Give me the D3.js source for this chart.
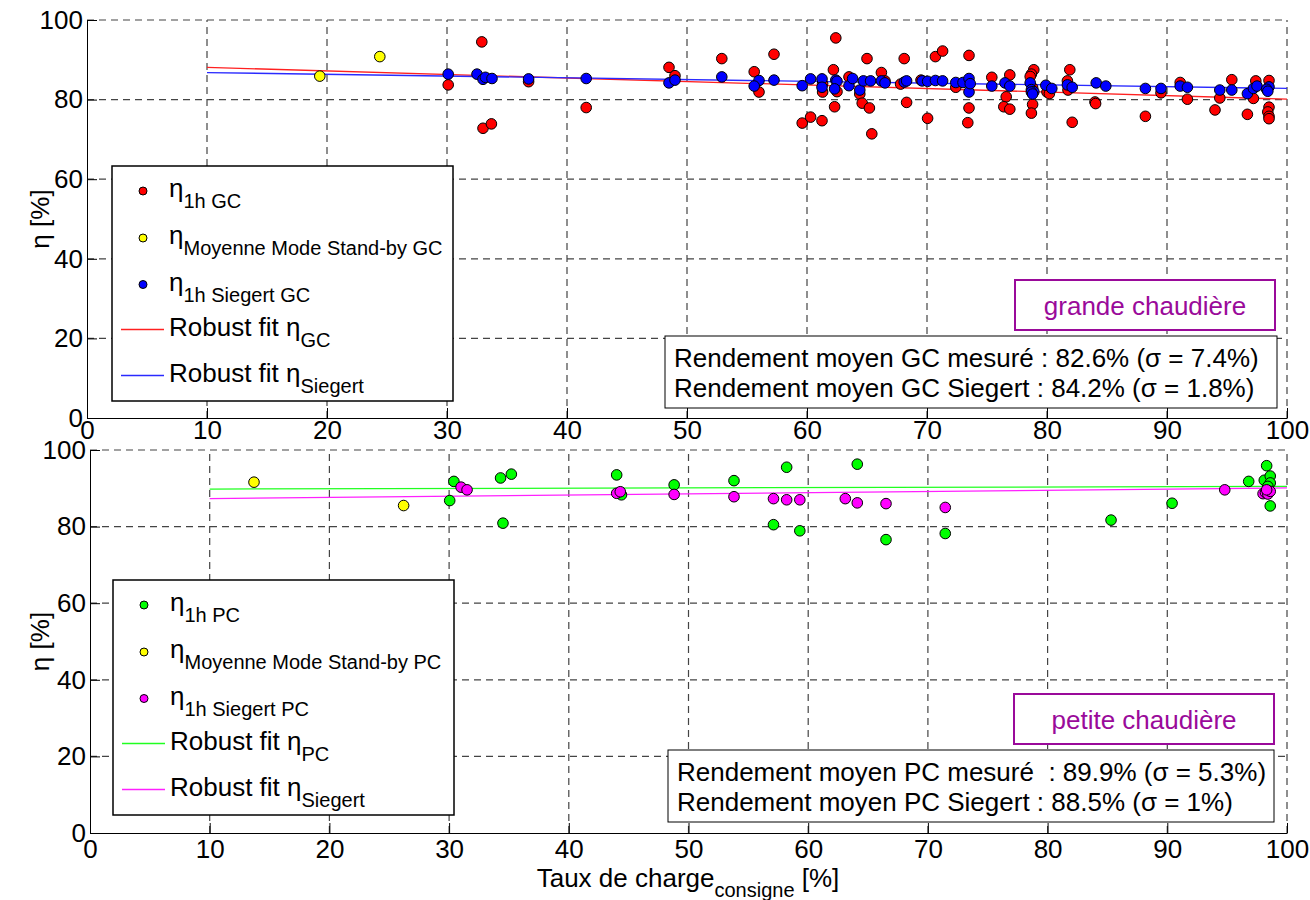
<!DOCTYPE html>
<html>
	<head>
		<meta charset="utf-8" />
		<title>Rendement chaudières</title>
		<style>
			body {
				margin: 0;
				background: #fff;
			}
			#svg {
				display: block;
				font-family: 'Liberation Sans', Arial, sans-serif;
			}
		</style>
	</head>
	<body>
		<svg id="svg" width="1310" height="900"></svg>

		<script src="https://d3js.org/d3.v7.min.js"></script>
		<script>
			// ticks
			const xTicks = [0, 10, 20, 30, 40, 50, 60, 70, 80, 90, 100];
			const yTicks = [0, 20, 40, 60, 80, 100];

			// grande chaudière : [taux de charge, rendement]
			const gc1h = [
				[30.1, 83.7], [32.9, 94.5], [33.0, 72.8], [33.7, 73.9], [36.8, 84.5], [41.6, 78.0],
				[48.5, 88.1], [49.0, 86.0], [52.9, 90.3], [55.6, 87.0], [56.0, 81.9], [57.25, 91.4],
				[59.6, 74.1], [60.3, 75.6], [61.25, 74.7], [61.3, 81.9], [61.3, 84.0], [62.4, 95.5],
				[62.2, 87.5], [62.3, 78.2], [62.5, 82.0], [63.5, 85.7], [64.4, 81.4], [64.6, 79.1],
				[65.0, 90.3], [65.2, 77.9], [65.4, 71.4], [66.2, 86.8], [66.5, 84.7], [68.1, 90.3],
				[68.3, 79.3], [67.8, 83.9], [69.5, 84.9], [70.05, 75.3], [70.7, 90.8], [71.3, 92.2],
				[72.4, 83.1], [73.5, 91.1], [73.5, 77.9], [73.4, 74.2], [75.4, 85.6], [76.9, 86.2],
				[76.6, 80.7], [76.4, 78.2], [76.9, 77.6], [78.9, 87.5], [78.7, 86.4], [78.6, 85.8],
				[78.8, 83.0], [78.8, 78.8], [78.7, 76.6], [80.0, 81.9], [80.2, 81.5], [81.7, 84.7],
				[81.9, 87.5], [81.75, 82.4], [82.1, 74.3], [84.0, 79.4], [84.05, 79.0], [88.2, 75.8],
				[89.5, 81.7], [91.1, 84.3], [91.7, 80.1], [94.0, 77.4], [94.4, 80.4], [95.4, 85.0],
				[96.7, 76.3], [97.2, 80.3], [97.4, 84.7], [98.5, 84.8], [98.5, 78.1], [98.4, 76.9],
				[98.5, 75.8], [98.5, 75.2]
			];
			const gcStandby = [[19.4, 85.9], [24.4, 90.8]];
			const gcSiegert = [
				[30.1, 86.4], [32.5, 86.4], [33.0, 85.1], [33.2, 85.6], [33.75, 85.3], [36.8, 85.2],
				[41.6, 85.3], [48.5, 84.2], [49.0, 84.9], [52.9, 85.7], [56.0, 84.8], [55.6, 83.4],
				[57.25, 84.9], [59.6, 83.5], [60.3, 85.2], [61.25, 85.2], [61.25, 83.1], [62.4, 84.9],
				[62.5, 84.6], [62.3, 82.7], [63.5, 83.5], [63.8, 85.3], [64.4, 82.4], [64.7, 84.7],
				[65.3, 84.7], [66.2, 84.7], [66.5, 84.2], [68.1, 84.4], [68.3, 84.7], [69.6, 84.7],
				[70.05, 84.6], [70.7, 84.8], [71.3, 84.7], [72.4, 84.3], [73.0, 84.3], [73.5, 81.9],
				[73.5, 85.3], [73.6, 84.0], [75.4, 83.4], [76.5, 84.2], [76.9, 83.4], [78.6, 84.2],
				[78.7, 82.5], [78.9, 82.0], [78.7, 81.9], [78.8, 81.4], [79.9, 83.6], [80.4, 82.8],
				[81.7, 83.7], [82.1, 83.1], [84.1, 84.2], [84.9, 83.4], [88.2, 82.8], [89.5, 82.8],
				[91.1, 83.4], [91.7, 83.1], [94.4, 82.4], [95.4, 82.4], [96.7, 81.5], [97.2, 82.8],
				[97.5, 83.4], [98.5, 83.2], [98.3, 82.6], [98.4, 82.1]
			];
			const fitGC = [[10, 88.1], [100, 80.1]];
			const fitGCSiegert = [[10, 86.8], [100, 82.8]];

			// petite chaudière
			const pc1h = [
				[30.05, 86.8], [30.4, 91.8], [34.3, 92.7], [34.5, 80.9], [35.2, 93.7], [44.0, 93.5],
				[44.4, 88.3], [48.8, 90.9], [53.8, 92.0], [57.1, 80.5], [58.2, 95.5], [59.3, 78.9],
				[64.1, 96.3], [66.5, 76.6], [71.45, 78.2], [85.3, 81.7], [90.4, 86.1], [96.8, 91.8],
				[98.3, 95.9], [98.1, 92.1], [98.6, 93.2], [98.6, 91.4], [98.6, 85.4], [98.4, 90.5]
			];
			const pcStandby = [[13.7, 91.6], [26.2, 85.5]];
			const pcSiegert = [
				[31.0, 90.3], [31.5, 89.6], [44.0, 88.7], [44.3, 89.1], [48.8, 88.4], [53.8, 87.8],
				[57.1, 87.3], [58.2, 87.0], [59.3, 87.0], [63.1, 87.3], [64.1, 86.2], [66.5, 86.0],
				[71.45, 85.0], [94.8, 89.6], [98.0, 88.6], [98.2, 88.9], [98.4, 88.5], [98.6, 89.2],
				[98.3, 89.6]
			];
			const fitPC = [[10, 89.8], [100, 90.5]];
			const fitPCSiegert = [[10, 87.3], [100, 90.1]];

			// textes
			const legendGC = [
				['η', '1h GC'],
				['η', 'Moyenne Mode Stand-by GC'],
				['η', '1h Siegert GC'],
				['Robust fit η', 'GC'],
				['Robust fit η', 'Siegert']
			];
			const legendPC = [
				['η', '1h PC'],
				['η', 'Moyenne Mode Stand-by PC'],
				['η', '1h Siegert PC'],
				['Robust fit η', 'PC'],
				['Robust fit η', 'Siegert']
			];
			const statsGC = [
				'Rendement moyen GC mesuré : 82.6% (σ = 7.4%)',
				'Rendement moyen GC Siegert : 84.2% (σ = 1.8%)'
			];
			const statsPC = [
				'Rendement moyen PC mesuré  : 89.9% (σ = 5.3%)',
				'Rendement moyen PC Siegert : 88.5% (σ = 1%)'
			];

			const svg = d3.select('#svg');
			const purple = '#9a0a9a';

			function drawPanel(p) {
				const xscale = d3.scaleLinear().domain([0, 100]).range([p.left, p.right]);
				const yscale = d3.scaleLinear().domain([0, 100]).range([p.bottom, p.top]);
				const g = svg.append('g');

				// dashed grid
				g.append('g')
					.selectAll('line')
					.data(xTicks.filter((t) => t > 0))
					.enter()
					.append('line')
					.attr('x1', (d) => xscale(d))
					.attr('x2', (d) => xscale(d))
					.attr('y1', yscale(0))
					.attr('y2', yscale(100))
					.attr('stroke', '#444')
					.attr('stroke-width', 1.2)
					.attr('stroke-dasharray', '7,5');
				g.append('g')
					.selectAll('line')
					.data(yTicks.filter((t) => t > 0))
					.enter()
					.append('line')
					.attr('x1', xscale(0))
					.attr('x2', xscale(100))
					.attr('y1', (d) => yscale(d))
					.attr('y2', (d) => yscale(d))
					.attr('stroke', '#444')
					.attr('stroke-width', 1.2)
					.attr('stroke-dasharray', '7,5');

				// axes, ticks pointing inwards
				const bottomAxis = d3.axisBottom(xscale).tickValues(xTicks).tickSizeInner(-10).tickSizeOuter(0).tickPadding(p.xPad);
				const leftAxis = d3.axisLeft(yscale).tickValues(yTicks).tickSizeInner(-10).tickSizeOuter(0).tickPadding(4);
				const ax = g.append('g').attr('transform', `translate(0, ${yscale(0)})`).call(bottomAxis);
				const ay = g.append('g').attr('transform', `translate(${xscale(0)}, 0)`).call(leftAxis);
				[ax, ay].forEach((a) => {
					a.selectAll('path, line').attr('stroke', '#000');
					a.selectAll('text').attr('font-size', 26).attr('fill', '#000').attr('font-family', null);
				});

				g.append('text')
					.attr('transform', `translate(49, ${(p.top + p.bottom) / 2}) rotate(-90)`)
					.attr('text-anchor', 'middle')
					.attr('font-size', 26)
					.text('η [%]');

				// robust fits
				const linegen = d3
					.line()
					.x((d) => xscale(d[0]))
					.y((d) => yscale(d[1]));
				p.fits.forEach((f) => {
					g.append('path')
						.attr('d', linegen(f.data))
						.attr('stroke', f.color)
						.attr('stroke-width', 1.3)
						.attr('fill', 'none');
				});

				// points
				p.series.forEach((s) => {
					g.append('g')
						.selectAll('circle')
						.data(s.data)
						.enter()
						.append('circle')
						.attr('cx', (d) => xscale(d[0]))
						.attr('cy', (d) => yscale(d[1]))
						.attr('r', 5.3)
						.attr('fill', s.color)
						.attr('stroke', '#000')
						.attr('stroke-width', 1);
				});

				// legend
				const lg = g.append('g').attr('transform', `translate(${p.legend[0]}, ${p.legend[1]})`);
				lg.append('rect')
					.attr('width', 341)
					.attr('height', 235)
					.attr('fill', '#fff')
					.attr('stroke', '#000')
					.attr('stroke-width', 1.5);
				const rowY = [25, 72, 118.5, 163.5, 209.5];
				const keys = p.series.map((s) => ({ type: 'dot', color: s.color })).concat(p.fits.map((f) => ({ type: 'line', color: f.color })));
				keys.forEach((k, i) => {
					if (k.type === 'dot') {
						lg.append('circle')
							.attr('cx', 31)
							.attr('cy', rowY[i])
							.attr('r', 4)
							.attr('fill', k.color)
							.attr('stroke', '#000')
							.attr('stroke-width', 1);
					} else {
						lg.append('line')
							.attr('x1', 9)
							.attr('x2', 52)
							.attr('y1', rowY[i])
							.attr('y2', rowY[i])
							.attr('stroke', k.color)
							.attr('stroke-width', 1.3);
					}
					const t = lg.append('text').attr('x', 57).attr('y', rowY[i] + 6).attr('font-size', 26);
					t.append('tspan').text(p.legendText[i][0]);
					t.append('tspan').attr('dy', 11).attr('font-size', 20).text(p.legendText[i][1]);
				});

				// stats box
				const sb = g.append('g').attr('transform', `translate(${p.stats[0]}, ${p.stats[1]})`);
				sb.append('rect')
					.attr('width', p.stats[2])
					.attr('height', 72)
					.attr('fill', '#fff')
					.attr('stroke', '#000')
					.attr('stroke-width', 1);
				sb.selectAll('text')
					.data(p.statsText)
					.enter()
					.append('text')
					.attr('x', 9)
					.attr('y', (d, i) => 31 + i * 29.5)
					.attr('font-size', 26)
					.style('white-space', 'pre')
					.text((d) => d);

				// title box
				const tb = g.append('g').attr('transform', `translate(${p.title[0]}, ${p.title[1]})`);
				tb.append('rect')
					.attr('width', 260)
					.attr('height', 50)
					.attr('fill', '#fff')
					.attr('stroke', purple)
					.attr('stroke-width', 2);
				tb.append('text')
					.attr('x', 130)
					.attr('y', 35)
					.attr('text-anchor', 'middle')
					.attr('font-size', 26)
					.attr('fill', purple)
					.text(p.titleText);
			}

			drawPanel({
				left: 87,
				right: 1287,
				top: 20,
				bottom: 418,
				xPad: 3,
				series: [
					{ data: gc1h, color: '#ff0000' },
					{ data: gcStandby, color: '#ffff00' },
					{ data: gcSiegert, color: '#0000ff' }
				],
				fits: [
					{ data: fitGC, color: '#ff2020' },
					{ data: fitGCSiegert, color: '#2a2aff' }
				],
				legend: [112, 166],
				legendText: legendGC,
				stats: [665, 336, 612],
				statsText: statsGC,
				title: [1015, 280],
				titleText: 'grande chaudière'
			});

			drawPanel({
				left: 90,
				right: 1287,
				top: 450,
				bottom: 833,
				xPad: 7,
				series: [
					{ data: pc1h, color: '#00ff00' },
					{ data: pcStandby, color: '#ffff00' },
					{ data: pcSiegert, color: '#ff00ff' }
				],
				fits: [
					{ data: fitPC, color: '#20ff20' },
					{ data: fitPCSiegert, color: '#ff20ff' }
				],
				legend: [113, 580],
				legendText: legendPC,
				stats: [668, 750, 606],
				statsText: statsPC,
				title: [1014, 694],
				titleText: 'petite chaudière'
			});

			// x label
			const xl = svg.append('text').attr('x', 688).attr('y', 887).attr('text-anchor', 'middle').attr('font-size', 26);
			xl.append('tspan').text('Taux de charge');
			xl.append('tspan').attr('dy', 10).attr('font-size', 20).text('consigne');
			xl.append('tspan').attr('dy', -10).text(' [%]');
		</script>
	</body>
</html>
